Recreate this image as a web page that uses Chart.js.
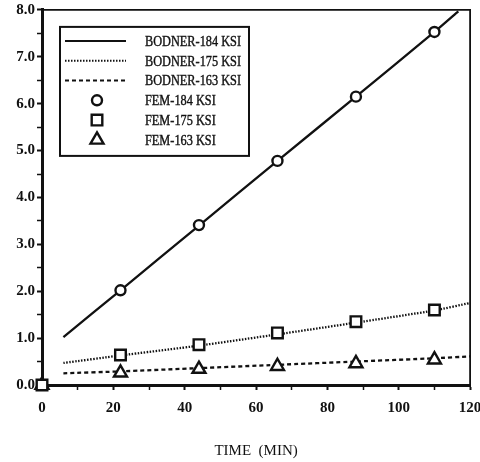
<!DOCTYPE html>
<html>
<head>
<meta charset="utf-8">
<script src="https://cdn.jsdelivr.net/npm/chart.js@4"></script>
<style>
  html, body { margin: 0; padding: 0; background: #fff; }
</style>
</head>
<body>
<canvas id="creepChart" width="480" height="462"></canvas>
<script>
// Bodner model curves (time in min)
const bodnerTime184 = [6, 22, 44, 66, 88, 110, 116.7];
const bodner184 = [1.02, 2.02, 3.40, 4.78, 6.15, 7.53, 7.97];
const bodnerTime = [6, 22, 44, 66, 88, 110, 120];
const bodner175 = [0.47, 0.63, 0.84, 1.08, 1.33, 1.59, 1.75];
const bodner163 = [0.25, 0.29, 0.36, 0.43, 0.50, 0.57, 0.61];

// FEM points
const femTime184 = [22, 44, 66, 88, 110];
const fem184 = [2.02, 3.41, 4.78, 6.15, 7.53];
const femTime = [0, 22, 44, 66, 88, 110];
const fem175 = [0, 0.64, 0.86, 1.11, 1.35, 1.60];
const fem163 = [0, 0.26, 0.34, 0.40, 0.46, 0.54];

const serif = "'Liberation Serif', 'DejaVu Serif', serif";

function toPoints(xs, ys) {
  return xs.map((x, i) => ({ x: x, y: ys[i] }));
}

function lineSet(label, xs, ys, dash) {
  return {
    label: label,
    data: toPoints(xs, ys),
    showLine: true,
    borderColor: "#111",
    borderWidth: 2.3,
    borderDash: dash,
    pointRadius: 0,
    tension: 0.2,
    fill: false,
    clip: false,
    order: 1,
  };
}

function pointSet(label, xs, ys, style, radius) {
  return {
    label: label,
    data: toPoints(xs, ys),
    showLine: false,
    pointStyle: style,
    pointRadius: radius,
    pointBorderWidth: 2.4,
    pointBorderColor: "#111",
    pointBackgroundColor: "#fff",
    borderColor: "#111",
    backgroundColor: "#fff",
    clip: false,
    order: 0,
  };
}

// frame on top and right side of the plot
const frame = {
  id: "frame",
  beforeDatasetsDraw(chart) {
    const { ctx, chartArea: a } = chart;
    ctx.save();
    ctx.strokeStyle = "#111";
    ctx.lineWidth = 1.8;
    ctx.beginPath();
    ctx.moveTo(a.left, a.top);
    ctx.lineTo(a.right, a.top);
    ctx.lineTo(a.right, a.bottom);
    ctx.stroke();
    ctx.restore();
  },
};

// boxed legend inside the plot, lines and markers like the original
const boxLegend = {
  id: "boxLegend",
  afterDraw(chart) {
    const { ctx, chartArea: a } = chart;
    const x0 = a.left + 18;
    const y0 = a.top + 17;
    ctx.save();
    ctx.fillStyle = "#fff";
    ctx.fillRect(x0, y0, 189, 129);
    ctx.strokeStyle = "#111";
    ctx.lineWidth = 2;
    ctx.strokeRect(x0, y0, 189, 129);

    chart.data.datasets.forEach((ds, i) => {
      const y = y0 + 14 + i * 19.8;
      ctx.strokeStyle = "#111";
      if (ds.showLine === false) {
        ctx.fillStyle = "#fff";
        ctx.lineWidth = ds.pointBorderWidth;
        ctx.setLineDash([]);
        Chart.helpers.drawPoint(ctx, {
          pointStyle: ds.pointStyle,
          radius: ds.pointRadius,
          borderWidth: ds.pointBorderWidth,
          rotation: 0,
        }, x0 + 37, y);
      } else {
        ctx.lineWidth = 2;
        ctx.setLineDash(ds.borderDash || []);
        ctx.beginPath();
        ctx.moveTo(x0 + 5, y);
        ctx.lineTo(x0 + 66, y);
        ctx.stroke();
        ctx.setLineDash([]);
      }
      ctx.save();
      ctx.translate(x0 + 85, y);
      ctx.scale(0.82, 1);
      ctx.fillStyle = "#111";
      ctx.strokeStyle = "#111";
      ctx.lineWidth = 0.4;
      ctx.font = "15px " + serif;
      ctx.textBaseline = "middle";
      ctx.fillText(ds.label, 0, 1);
      ctx.strokeText(ds.label, 0, 1);
      ctx.restore();
    });
    ctx.restore();
  },
};

new Chart(document.getElementById("creepChart"), {
  type: "scatter",
  data: {
    datasets: [
      lineSet("BODNER-184 KSI", bodnerTime184, bodner184, []),
      lineSet("BODNER-175 KSI", bodnerTime, bodner175, [1.5, 1.5]),
      lineSet("BODNER-163 KSI", bodnerTime, bodner163, [4, 3]),
      pointSet("FEM-184 KSI", femTime184, fem184, "circle", 5),
      pointSet("FEM-175 KSI", femTime, fem175, "rect", 7.5),
      pointSet("FEM-163 KSI", femTime, fem163, "triangle", 7.5),
    ],
  },
  options: {
    responsive: false,
    animation: false,
    layout: { padding: 0 },
    plugins: {
      legend: { display: false },
      tooltip: { enabled: false },
    },
    scales: {
      x: {
        type: "linear",
        min: 0,
        max: 120,
        border: { display: true, color: "#111", width: 3 },
        grid: {
          drawOnChartArea: false,
          drawTicks: true,
          tickLength: 5,
          tickColor: "#111",
          tickWidth: (c) => (c.tick && c.tick.value % 20 === 0 ? 2 : 1.5),
        },
        ticks: {
          stepSize: 10,
          autoSkip: false,
          maxRotation: 0,
          padding: 9,
          color: "#111",
          font: { family: serif, size: 15, weight: "bold" },
          callback: (v) => (v % 20 === 0 ? String(v) : ""),
        },
        title: {
          display: true,
          text: "TIME  (MIN)",
          color: "#111",
          font: { family: serif, size: 15 },
          padding: { top: 0, bottom: 2 },
        },
        afterFit(scale) {
          scale.height = 77;
          scale.paddingRight = 9;
        },
      },
      y: {
        type: "linear",
        min: 0,
        max: 8,
        border: { display: true, color: "#111", width: 3 },
        grid: {
          drawOnChartArea: false,
          drawTicks: true,
          tickLength: 5,
          tickColor: "#111",
          tickWidth: (c) => (c.tick && c.tick.value % 1 === 0 ? 2 : 1.5),
        },
        ticks: {
          stepSize: 0.5,
          autoSkip: false,
          padding: 2,
          color: "#111",
          font: { family: serif, size: 15, weight: "bold" },
          callback: (v) => (v % 1 === 0 ? v.toFixed(1) : ""),
        },
        afterFit(scale) {
          scale.width = 42;
          scale.paddingTop = 7;
          scale.paddingBottom = 0;
        },
      },
    },
  },
  plugins: [frame, boxLegend],
});
</script>
</body>
</html>
